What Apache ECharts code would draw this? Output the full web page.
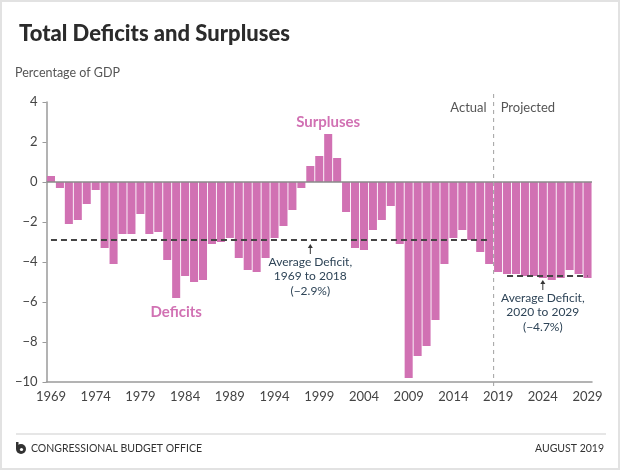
<!DOCTYPE html>
<html><head><meta charset="utf-8">
<script src="https://cdn.jsdelivr.net/npm/echarts@6/dist/echarts.min.js"></script>
<style>html,body{margin:0;padding:0;background:#fff}#c{width:620px;height:470px}</style>
</head><body><div id="c"></div>
<script>
var years = ['1969','1970','1971','1972','1973','1974','1975','1976','1977','1978','1979','1980','1981','1982','1983','1984','1985','1986','1987','1988','1989','1990','1991','1992','1993','1994','1995','1996','1997','1998','1999','2000','2001','2002','2003','2004','2005','2006','2007','2008','2009','2010','2011','2012','2013','2014','2015','2016','2017','2018','2019','2020','2021','2022','2023','2024','2025','2026','2027','2028','2029'];
var balance = [0.3,-0.3,-2.1,-1.9,-1.1,-0.4,-3.3,-4.1,-2.6,-2.6,-1.6,-2.6,-2.5,-3.9,-5.8,-4.7,-5.0,-4.9,-3.1,-3.0,-2.8,-3.8,-4.4,-4.5,-3.8,-2.8,-2.2,-1.4,-0.3,0.8,1.3,2.4,1.2,-1.5,-3.3,-3.4,-2.4,-1.9,-1.2,-3.1,-9.8,-8.7,-8.2,-6.9,-4.1,-2.8,-2.4,-2.9,-3.5,-4.1,-4.5,-4.6,-4.6,-4.7,-4.7,-4.8,-4.9,-4.8,-4.4,-4.6,-4.8];
var avgHist = -2.9, avgHistFrom = '1969', avgHistTo = '2018';
var avgProj = -4.7, avgProjFrom = '2020', avgProjTo = '2029';
var lastActual = '2018', firstProjected = '2019';
var yMin = -10, yMax = 4, yStep = 2;

var FONT = 'Lato, "Open Sans", sans-serif';
var PINK = '#d171b3';
var chart = echarts.init(document.getElementById('c'));
function minus(v){ return String(v).replace('-', '\u2212'); }

chart.setOption({
  animation: false,
  backgroundColor: '#fff',
  title: {text: 'Total Deficits and Surpluses', left: 14, top: 18,
    textStyle: {fontFamily: FONT, fontSize: 22, fontWeight: 900, color: '#2b2b2b'}},
  grid: {left: 46.5, right: 28, top: 102, bottom: 88},
  xAxis: {type: 'category', data: years, boundaryGap: true,
    axisLine: {onZero: false, lineStyle: {color: '#9a9a9a', width: 1.5}},
    axisTick: {alignWithLabel: true, interval: function(i){return i % 5 === 0;}, length: 5, lineStyle: {color: '#9a9a9a'}},
    axisLabel: {interval: function(i){return i % 5 === 0;}, fontFamily: FONT, fontSize: 13, color: '#444', margin: 8}},
  yAxis: {type: 'value', min: yMin, max: yMax, interval: yStep,
    axisLine: {show: true, lineStyle: {color: '#9a9a9a', width: 1.5}},
    axisTick: {show: true, length: 4, lineStyle: {color: '#9a9a9a'}},
    splitLine: {show: false},
    axisLabel: {fontFamily: FONT, fontSize: 13, color: '#444', margin: 9, formatter: minus}},
  series: [{
    type: 'bar', data: balance, barCategoryGap: '10%',
    itemStyle: {color: PINK},
    markLine: {silent: true, symbol: 'none', label: {show: false}, animation: false,
      data: [
        {yAxis: 0, lineStyle: {color: '#8a8a8a', width: 1.5, type: 'solid'}},
        [{coord: [avgHistFrom, avgHist]}, {coord: [avgHistTo, avgHist]}],
        [{coord: [avgProjFrom, avgProj]}, {coord: [avgProjTo, avgProj]}]
      ],
      lineStyle: {color: '#444', width: 2, type: [6, 4]}}
  }]
});

function px(cat, v){ return chart.convertToPixel({seriesIndex: 0}, [cat, v]); }
var a = px(lastActual, 0), b = px(firstProjected, 0);
var splitX = (a[0] + b[0]) / 2;
var top4 = px(lastActual, yMax)[1];
var ANN = '#2e4457';
var g = [];
// border
g.push({type: 'rect', shape: {x: 1, y: 1, width: 618, height: 468}, style: {fill: 'none', stroke: '#e2e2e2', lineWidth: 2}, silent: true});
g.push({type: 'text', left: 15, top: 66, style: {text: 'Percentage of GDP', font: '12.5px ' + FONT, fill: '#555'}});
// actual / projected divider
g.push({type: 'line', shape: {x1: splitX, y1: top4 - 8, x2: splitX, y2: px(lastActual, yMin)[1] + 4}, style: {stroke: '#a0a0a0', lineWidth: 1, lineDash: [4, 4]}, z: 10});
g.push({type: 'text', x: splitX - 7, y: 108, style: {text: 'Actual', font: '13px ' + FONT, fill: '#555', textAlign: 'right', textVerticalAlign: 'middle'}});
g.push({type: 'text', x: splitX + 7, y: 108, style: {text: 'Projected', font: '13px ' + FONT, fill: '#555', textAlign: 'left', textVerticalAlign: 'middle'}});
// Surpluses / Deficits labels
var s = px('2000', 2.4);
g.push({type: 'text', x: s[0], y: 122, style: {text: 'Surpluses', font: 'bold 15px ' + FONT, fill: PINK, textAlign: 'center', textVerticalAlign: 'middle'}});
var d = px('1983', -6.5);
g.push({type: 'text', x: d[0], y: d[1], style: {text: 'Deficits', font: 'bold 15px ' + FONT, fill: PINK, textAlign: 'center', textVerticalAlign: 'middle'}});
// annotations with arrows
function annot(cat, val, lines){
  var p = px(cat, val);
  var x = p[0], y0 = p[1] + 4, y1 = p[1] + 14;
  g.push({type: 'line', shape: {x1: x, y1: y0 + 2, x2: x, y2: y1}, style: {stroke: '#333', lineWidth: 1}, z: 10});
  g.push({type: 'polygon', shape: {points: [[x - 2.5, y0 + 4], [x + 2.5, y0 + 4], [x, y0]]}, style: {fill: '#333'}, z: 10});
  for (var i = 0; i < lines.length; i++) {
    g.push({type: 'text', x: x, y: y1 + 8 + i * 14.5, style: {text: lines[i], font: '12px ' + FONT, fill: ANN, textAlign: 'center', textVerticalAlign: 'middle'}});
  }
}
annot('1998', avgHist, ['Average Deficit,', '1969 to 2018', '(\u22122.9%)']);
annot('2024', avgProj, ['Average Deficit,', '2020 to 2029', '(\u22124.7%)']);
// footer
g.push({type: 'line', shape: {x1: 16, y1: 434, x2: 606, y2: 434}, style: {stroke: '#e6e6e6', lineWidth: 2}});
g.push({type: 'circle', shape: {cx: 21, cy: 449, r: 5}, style: {fill: '#333'}});
g.push({type: 'rect', shape: {x: 16, y: 442, width: 2.5, height: 7}, style: {fill: '#333'}});
g.push({type: 'circle', shape: {cx: 21.5, cy: 449.5, r: 1.6}, style: {fill: '#fff'}});
g.push({type: 'text', x: 31, y: 449, style: {text: 'CONGRESSIONAL BUDGET OFFICE', font: '10.5px ' + FONT, fill: '#333', textVerticalAlign: 'middle'}});
g.push({type: 'text', x: 604, y: 449, style: {text: 'AUGUST 2019', font: '10.5px ' + FONT, fill: '#333', textAlign: 'right', textVerticalAlign: 'middle'}});
chart.setOption({graphic: g});
</script>
</body></html>
